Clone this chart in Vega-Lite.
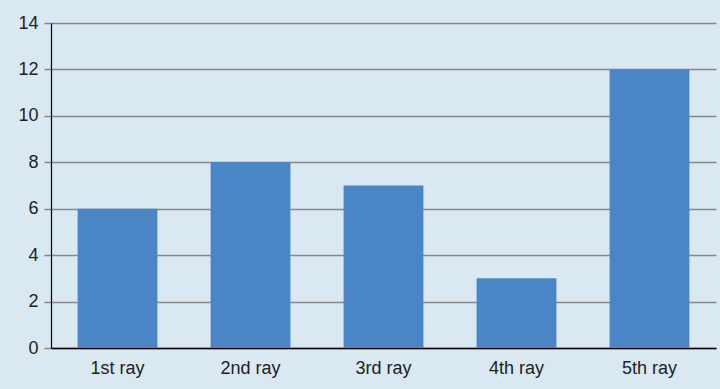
{
  "$schema": "https://vega.github.io/schema/vega-lite/v6.json",
  "width": 665,
  "height": 325,
  "autosize": {"type": "none"},
  "padding": {"left": 51, "top": 23, "right": 4, "bottom": 41},
  "background": "#d9e8f1",
  "config": {
    "view": {"stroke": null},
    "font": "Liberation Sans"
  },
  "data": {
    "values": [
      {"ray": "1st ray", "value": 6},
      {"ray": "2nd ray", "value": 8},
      {"ray": "3rd ray", "value": 7},
      {"ray": "4th ray", "value": 3},
      {"ray": "5th ray", "value": 12}
    ]
  },
  "mark": {"type": "bar", "color": "#4a86c6"},
  "encoding": {
    "x": {
      "field": "ray",
      "type": "nominal",
      "sort": null,
      "scale": {"paddingInner": 0.4, "paddingOuter": 0.2},
      "axis": {
        "title": null,
        "labelAngle": 0,
        "labelFontSize": 18,
        "labelColor": "#222222",
        "labelPadding": 11,
        "ticks": false,
        "domainColor": "#000000",
        "domainWidth": 1.5,
        "grid": false
      }
    },
    "y": {
      "field": "value",
      "type": "quantitative",
      "scale": {"domain": [0, 14]},
      "axis": {
        "title": null,
        "values": [0, 2, 4, 6, 8, 10, 12, 14],
        "labelFontSize": 18,
        "labelColor": "#222222",
        "labelPadding": 6,
        "tickSize": 7,
        "tickColor": "#888888",
        "tickWidth": 1.5,
        "domainColor": "#000000",
        "domainWidth": 1.2,
        "grid": true,
        "gridColor": "#888888",
        "gridWidth": 1.5,
        "gridOpacity": 1
      }
    }
  }
}
